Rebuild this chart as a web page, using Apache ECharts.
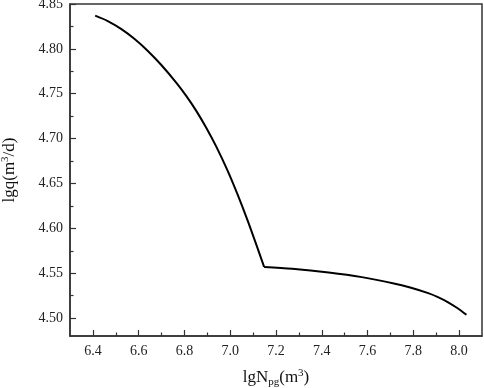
<!DOCTYPE html>
<html>
<head>
<meta charset="utf-8">
<script src="https://cdn.jsdelivr.net/npm/echarts@6/dist/echarts.min.js"></script>
<style>
html,body{margin:0;padding:0;background:#fff;}
#chart{width:484px;height:388px;}
</style>
</head>
<body>
<div id="chart"></div>
<script>
// Data
// steep branch (up to the break point)
const lgN_steep = [6.410, 6.465, 6.523, 6.581, 6.639, 6.697, 6.764, 6.807, 6.851, 6.894, 6.938, 6.988, 7.032, 7.075, 7.119, 7.148];
const lgq_steep = [4.8370, 4.8310, 4.8223, 4.8113, 4.7980, 4.7826, 4.7625, 4.7479, 4.7312, 4.7127, 4.6916, 4.6646, 4.6378, 4.6094, 4.5782, 4.5570];
// flat branch (from the break point on)
const lgN_flat = [7.148, 7.271, 7.430, 7.575, 7.720, 7.790, 7.865, 7.910, 7.952, 7.992, 8.032];
const lgq_flat = [4.5570, 4.5550, 4.5508, 4.5456, 4.5383, 4.5338, 4.5278, 4.5231, 4.5176, 4.5112, 4.5036];
// Tick labels
const xTicks = [6.4, 6.6, 6.8, 7.0, 7.2, 7.4, 7.6, 7.8, 8.0];
const yTicks = [4.50, 4.55, 4.60, 4.65, 4.70, 4.75, 4.80, 4.85];

function midpoints(arr, lo, hi) {
  const step = arr[1] - arr[0];
  const out = [];
  for (let v = arr[0] - step / 2; v <= arr[arr.length - 1] + step / 2 + 1e-9; v += step) {
    const r = Math.round(v * 1000) / 1000;
    if (r > lo && r < hi) out.push(r);
  }
  return out;
}
const X_MIN = 6.3, X_MAX = 8.1, Y_MIN = 4.48, Y_MAX = 4.85;
const xMinor = midpoints(xTicks, X_MIN, X_MAX);
const yMinor = midpoints(yTicks, Y_MIN, Y_MAX);

const steepPts = lgN_steep.map((x, i) => [x, lgq_steep[i]]);
const flatPts = lgN_flat.map((x, i) => [x, lgq_flat[i]]);
const AX = '#333';
const FONT = 'Liberation Serif';

const chart = echarts.init(document.getElementById('chart'), null, {renderer: 'canvas'});
chart.setOption({
  animation: false,
  backgroundColor: '#fff',
  grid: {left: 70, right: 2, top: 4, bottom: 52, show: true, borderColor: AX, borderWidth: 1.5,
         containLabel: false, outerBoundsMode: 'none'},
  xAxis: [{
    type: 'value', min: X_MIN, max: X_MAX, position: 'bottom',
    name: 'lgN{sub|pg}(m{sup|3})', nameLocation: 'middle', nameGap: 32,
    nameTextStyle: {fontFamily: FONT, fontSize: 17, color: '#111',
      rich: {sub: {fontFamily: FONT, fontSize: 11, color: '#111', padding: [9, 0, 0, 0]},
             sup: {fontFamily: FONT, fontSize: 11, color: '#111', padding: [0, 0, 9, 0]}}},
    axisLine: {show: true, lineStyle: {color: AX, width: 1.5}},
    axisTick: {show: true, inside: true, length: 6, customValues: xTicks, lineStyle: {color: AX, width: 1.2}},
    axisLabel: {show: true, customValues: xTicks, margin: 8, fontFamily: FONT, fontSize: 14, color: '#222',
      formatter: v => Number(v).toFixed(1)},
    splitLine: {show: false}
  }, {
    type: 'value', min: X_MIN, max: X_MAX, position: 'bottom',
    axisLine: {show: false},
    axisTick: {show: true, inside: true, length: 3.5, customValues: xMinor, lineStyle: {color: AX, width: 1.2}},
    axisLabel: {show: false},
    splitLine: {show: false}
  }],
  yAxis: [{
    type: 'value', min: Y_MIN, max: Y_MAX, position: 'left',
    name: 'lgq(m{sup|3}/d)', nameLocation: 'middle', nameGap: 50, nameRotate: 90,
    nameTextStyle: {fontFamily: FONT, fontSize: 17, color: '#111',
      rich: {sup: {fontFamily: FONT, fontSize: 11, color: '#111', padding: [0, 0, 9, 0]}}},
    axisLine: {show: true, lineStyle: {color: AX, width: 1.5}},
    axisTick: {show: true, inside: true, length: 6, customValues: yTicks, lineStyle: {color: AX, width: 1.2}},
    axisLabel: {show: true, customValues: yTicks, margin: 7, fontFamily: FONT, fontSize: 14, color: '#222',
      formatter: v => Number(v).toFixed(2)},
    splitLine: {show: false}
  }, {
    type: 'value', min: Y_MIN, max: Y_MAX, position: 'left',
    axisLine: {show: false},
    axisTick: {show: true, inside: true, length: 3.5, customValues: yMinor, lineStyle: {color: AX, width: 1.2}},
    axisLabel: {show: false},
    splitLine: {show: false}
  }],
  series: [{
    type: 'line', xAxisIndex: 0, yAxisIndex: 0,
    data: steepPts, showSymbol: false, smooth: 0.3,
    lineStyle: {color: '#000', width: 2}
  }, {
    type: 'line', xAxisIndex: 0, yAxisIndex: 0,
    data: flatPts, showSymbol: false, smooth: 0.3,
    lineStyle: {color: '#000', width: 2}
  }]
});
</script>
</body>
</html>
